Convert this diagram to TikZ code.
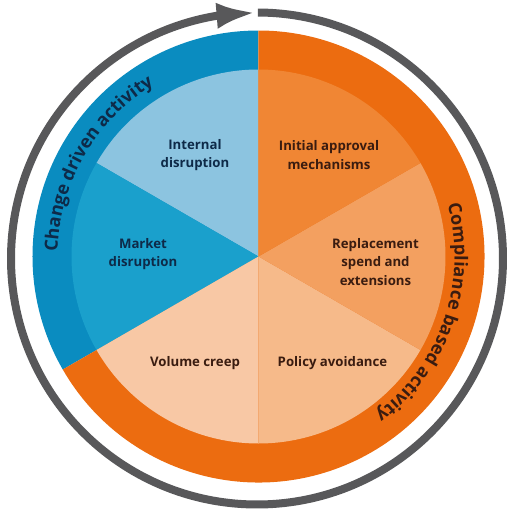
\documentclass[tikz,border=0pt]{standalone}
\usepackage{fontspec}
\setmainfont{Open Sans}
\usetikzlibrary{decorations.text,arrows.meta,bending,calc}

\definecolor{ringblue}{HTML}{0A8CC0}
\definecolor{ringorange}{HTML}{EC6C10}
\definecolor{sliceA}{HTML}{8CC4E0}
\definecolor{sliceB}{HTML}{1AA0CC}
\definecolor{sliceC}{HTML}{F8C8A5}
\definecolor{sliceD}{HTML}{F6BA8A}
\definecolor{sliceE}{HTML}{F3A060}
\definecolor{sliceF}{HTML}{F08634}
\definecolor{greyring}{HTML}{58585A}
\definecolor{navytext}{HTML}{0E2A48}
\definecolor{browntext}{HTML}{3A1C10}

\tikzset{
  lbl/.style={align=center, font=\bfseries\fontsize{13.2}{18.5}\selectfont, inner sep=0pt},
  bluelbl/.style={lbl, text=navytext},
  orangelbl/.style={lbl, text=browntext},
}

\begin{document}
\begin{tikzpicture}[x=1pt,y=1pt]
\useasboundingbox (-258.5,-255.5) rectangle (251.5,256.5);
\coordinate (c) at (0,0);
\coordinate (g) at (-1.5,-2);

% outer ring
\fill[ringblue] (c) -- (90:226) arc[start angle=90,end angle=210,radius=226] -- cycle;
\fill[ringorange] (c) -- (210:226) arc[start angle=210,end angle=450,radius=226] -- cycle;

% pie slices
\fill[sliceA] (c) -- (90:187) arc[start angle=90,end angle=150,radius=187] -- cycle;
\fill[sliceB] (c) -- (150:187) arc[start angle=150,end angle=210,radius=187] -- cycle;
\fill[sliceC] (c) -- (210:187) arc[start angle=210,end angle=270,radius=187] -- cycle;
\fill[sliceD] (c) -- (270:187) arc[start angle=270,end angle=330,radius=187] -- cycle;
\fill[sliceE] (c) -- (330:187) arc[start angle=330,end angle=390,radius=187] -- cycle;
\fill[sliceF] (c) -- (30:187) arc[start angle=30,end angle=90,radius=187] -- cycle;

% grey cycle arrow
\draw[greyring, line width=8pt, -{Latex[length=40pt,width=26pt]}]
  ($(g)+(89.8:246)$) arc[start angle=89.8,end angle=-269.9,radius=246];

% labels
\node[bluelbl] (internal) at (-63.5,101.5) {Internal\\disruption};
\node[bluelbl] (market) at (-115.5,2.5) {Market\\disruption};
\node[orangelbl] (volume) at (-63.5,-106.5) {Volume creep};
\node[orangelbl] (policy) at (74,-106.5) {Policy avoidance};
\node[orangelbl] (replace) at (117,-5.5) {Replacement\\spend and\\extensions};
\node[orangelbl] (initial) at (70.5,101.5) {Initial approval\\mechanisms};

% ring texts
\path[decorate, decoration={text along path, text align=center, text color=navytext,
  text={|\bfseries\fontsize{18}{18}\selectfont|Change driven activity}}]
  (195:201) arc[start angle=195,end angle=105,radius=201];
\path[decorate, decoration={text along path, text align=center, text color=browntext,
  text={|\bfseries\fontsize{18}{18}\selectfont|Compliance based activity}}]
  (26:196) arc[start angle=26,end angle=-64,radius=196];
\end{tikzpicture}
\end{document}
